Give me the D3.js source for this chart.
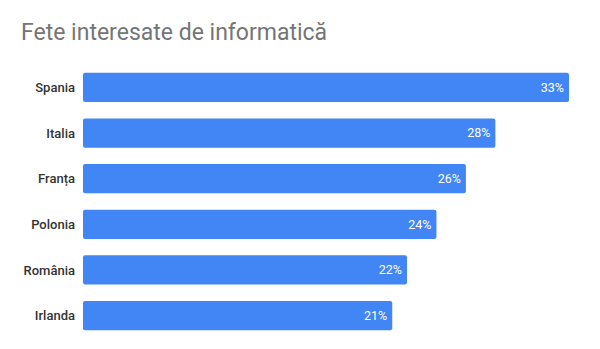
<!DOCTYPE html>
<html><head><meta charset="utf-8">
<script src="https://cdn.jsdelivr.net/npm/d3@7"></script>
<style>body{margin:0;background:#fff;}</style>
</head><body>
<svg id="c" width="600" height="349"></svg>
<script>
const categories = ["Spania","Italia","Franța","Polonia","România","Irlanda"];
const values = [33,28,26,24,22,21];
const valueLabels = ["33%","28%","26%","24%","22%","21%"];
const title = "Fete interesate de informatică";

const svg = d3.select("#c");
const x = d3.scaleLinear().domain([0,33]).range([83,569]);
const y = d3.scaleBand().domain(categories).range([73-8.4,330+8.4]).paddingInner(0.36).paddingOuter(0.18);

svg.append("text").attr("x",21).attr("y",40).attr("font-family","Roboto").attr("font-size",23)
  .attr("fill","#757575").text(title);

svg.selectAll("rect.bar").data(values).join("rect").attr("class","bar")
  .attr("x",x(0)).attr("y",(d,i)=>y(categories[i])).attr("width",d=>x(d)-x(0))
  .attr("height",y.bandwidth()).attr("rx",2).attr("fill","#4285F4");

svg.selectAll("text.cat").data(categories).join("text").attr("class","cat")
  .attr("x",75).attr("y",d=>y(d)+y.bandwidth()/2).attr("dy","0.35em").attr("text-anchor","end")
  .attr("font-family","Roboto").attr("font-size",13).attr("font-weight",500).attr("fill","#333").text(d=>d);

svg.selectAll("text.val").data(values).join("text").attr("class","val")
  .attr("x",d=>x(d)-5).attr("y",(d,i)=>y(categories[i])+y.bandwidth()/2).attr("dy","0.35em").attr("text-anchor","end")
  .attr("font-family","Roboto").attr("font-size",12.5).attr("fill","#fff").text((d,i)=>valueLabels[i]);
</script>
</body></html>
